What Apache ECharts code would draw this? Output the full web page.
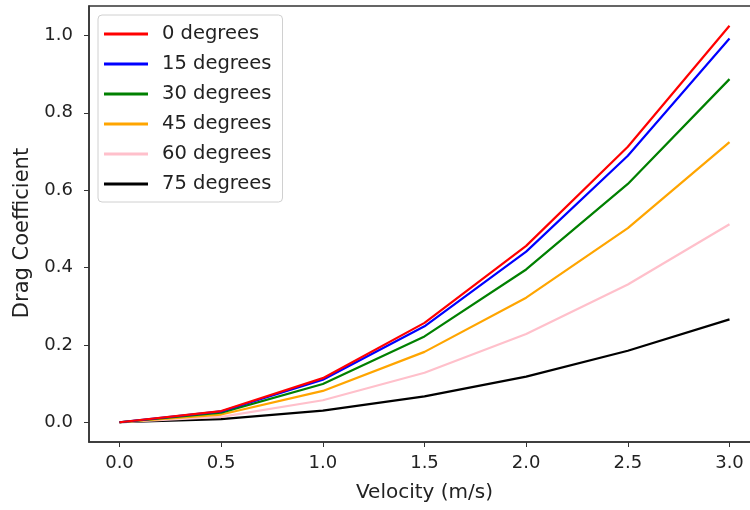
<!DOCTYPE html>
<html>
<head>
<meta charset="utf-8">
<script src="https://cdn.jsdelivr.net/npm/echarts@6/dist/echarts.min.js"></script>
<style>
html,body{margin:0;padding:0;background:#fff;}
#chart{width:750px;height:510px;}
</style>
</head>
<body>
<div id="chart"></div>
<script>
const velocity = [0.0, 0.5, 1.0, 1.5, 2.0, 2.5, 3.0];
const seriesNames = ['0 degrees', '15 degrees', '30 degrees', '45 degrees', '60 degrees', '75 degrees'];
const deg0  = [0.0, 0.029, 0.114, 0.257, 0.456, 0.712, 1.025];
const deg15 = [0.0, 0.028, 0.110, 0.248, 0.441, 0.689, 0.992];
const deg30 = [0.0, 0.025, 0.099, 0.222, 0.395, 0.616, 0.887];
const deg45 = [0.0, 0.020, 0.081, 0.182, 0.322, 0.502, 0.724];
const deg60 = [0.0, 0.014, 0.057, 0.128, 0.228, 0.356, 0.512];
const deg75 = [0.0, 0.008, 0.030, 0.067, 0.118, 0.185, 0.266];
const xTicks = [0.0, 0.5, 1.0, 1.5, 2.0, 2.5, 3.0];
const yTicks = [0.0, 0.2, 0.4, 0.6, 0.8, 1.0];
const colors = ['#ff0000', '#0000ff', '#008000', '#ffa500', '#ffc0cb', '#000000'];
const allData = [deg0, deg15, deg30, deg45, deg60, deg75];

const font = 'DejaVu Sans';
const textColor = '#222';
const frameColor = '#333';

const chart = echarts.init(document.getElementById('chart'), null, {renderer: 'canvas'});
chart.setOption({
  animation: false,
  backgroundColor: '#fff',
  grid: {
    left: 89, top: 6, width: 671, height: 436,
    outerBoundsMode: 'none',
    containLabel: false,
    show: true, borderColor: frameColor, borderWidth: 1.5, backgroundColor: 'transparent'
  },
  legend: {
    orient: 'vertical',
    left: 98, top: 15,
    padding: [9, 11, 8, 6],
    itemGap: 10,
    itemWidth: 44,
    itemHeight: 3,
    icon: 'rect',
    backgroundColor: 'rgba(255,255,255,0.8)',
    borderColor: '#d0d0d0',
    borderWidth: 1,
    borderRadius: 4,
    data: seriesNames,
    textStyle: {fontFamily: font, fontSize: 19.5, color: textColor, lineHeight: 20, padding: [0, 0, 0, 9]}
  },
  xAxis: {
    type: 'value',
    min: -0.15, max: 3.15,
    name: 'Velocity (m/s)',
    nameLocation: 'middle',
    nameGap: 41,
    nameTextStyle: {fontFamily: font, fontSize: 20, color: textColor},
    splitLine: {show: false},
    axisLine: {show: true, onZero: false, lineStyle: {color: frameColor, width: 1.5}},
    axisTick: {show: true, length: 5, customValues: xTicks, lineStyle: {color: frameColor}},
    axisLabel: {customValues: xTicks, margin: 12, fontFamily: font, fontSize: 18, color: textColor,
      formatter: v => v.toFixed(1)}
  },
  yAxis: {
    type: 'value',
    min: -0.051, max: 1.076,
    name: 'Drag Coefficient',
    nameLocation: 'middle',
    nameGap: 56,
    nameTextStyle: {fontFamily: font, fontSize: 21, color: textColor, padding: [0, 18, 0, 0]},
    splitLine: {show: false},
    axisLine: {show: true, onZero: false, lineStyle: {color: frameColor, width: 1.5}},
    axisTick: {show: true, length: 5, customValues: yTicks, lineStyle: {color: frameColor}},
    axisLabel: {customValues: yTicks, margin: 16, fontFamily: font, fontSize: 18, color: textColor,
      formatter: v => v.toFixed(1)}
  },
  series: seriesNames.map((name, i) => ({
    name: name,
    type: 'line',
    data: velocity.map((v, j) => [v, allData[i][j]]),
    showSymbol: false,
    symbol: 'none',
    color: colors[i],
    lineStyle: {color: colors[i], width: 2.2},
    emphasis: {disabled: true},
    z: 10 - i
  }))
});
</script>
</body>
</html>
